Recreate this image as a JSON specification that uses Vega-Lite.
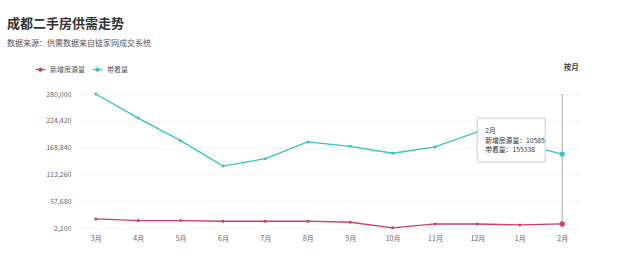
{
  "$schema": "https://vega.github.io/schema/vega-lite/v6.json",
  "autosize": {"type": "none"},
  "width": 502,
  "height": 134,
  "padding": {"left": 78, "top": 94, "right": 60, "bottom": 44},
  "background": "white",
  "title": {
    "text": "成都二手房供需走势",
    "subtitle": "数据来源：供需数据来自链家网成交系统",
    "anchor": "start",
    "frame": "group",
    "dx": -71,
    "offset": 16,
    "font": "Noto Sans CJK SC",
    "fontSize": 13,
    "fontWeight": "bold",
    "color": "#333333",
    "subtitleFont": "Noto Sans CJK SC",
    "subtitleFontSize": 8,
    "subtitleColor": "#555555",
    "subtitlePadding": 9
  },
  "config": {
    "view": {"stroke": null},
    "font": "Noto Sans CJK SC"
  },
  "datasets": {
    "main": [
      {"month": "3月", "idx": 0, "series": "新增房源量", "value": 20900},
      {"month": "4月", "idx": 1, "series": "新增房源量", "value": 17600},
      {"month": "5月", "idx": 2, "series": "新增房源量", "value": 17500},
      {"month": "6月", "idx": 3, "series": "新增房源量", "value": 16100},
      {"month": "7月", "idx": 4, "series": "新增房源量", "value": 16100},
      {"month": "8月", "idx": 5, "series": "新增房源量", "value": 16200},
      {"month": "9月", "idx": 6, "series": "新增房源量", "value": 14000},
      {"month": "10月", "idx": 7, "series": "新增房源量", "value": 2500},
      {"month": "11月", "idx": 8, "series": "新增房源量", "value": 10500},
      {"month": "12月", "idx": 9, "series": "新增房源量", "value": 10400},
      {"month": "1月", "idx": 10, "series": "新增房源量", "value": 8400},
      {"month": "2月", "idx": 11, "series": "新增房源量", "value": 10585},
      {"month": "3月", "idx": 0, "series": "带看量", "value": 280000},
      {"month": "4月", "idx": 1, "series": "带看量", "value": 230000},
      {"month": "5月", "idx": 2, "series": "带看量", "value": 183300},
      {"month": "6月", "idx": 3, "series": "带看量", "value": 130600},
      {"month": "7月", "idx": 4, "series": "带看量", "value": 145800},
      {"month": "8月", "idx": 5, "series": "带看量", "value": 180600},
      {"month": "9月", "idx": 6, "series": "带看量", "value": 171500},
      {"month": "10月", "idx": 7, "series": "带看量", "value": 157100},
      {"month": "11月", "idx": 8, "series": "带看量", "value": 170200},
      {"month": "12月", "idx": 9, "series": "带看量", "value": 201500},
      {"month": "1月", "idx": 10, "series": "带看量", "value": 177500},
      {"month": "2月", "idx": 11, "series": "带看量", "value": 155338}
    ],
    "hover": [
      {"month": "2月", "idx": 11, "value": 155338, "label": "按月"}
    ]
  },
  "layer": [
    {
      "data": {"name": "main"},
      "mark": {"type": "line", "strokeWidth": 1.3},
      "encoding": {
        "x": {
          "field": "idx", "type": "quantitative",
          "scale": {"domain": [-0.42, 11.42], "nice": false, "zero": false},
          "axis": {
            "values": [0, 1, 2, 3, 4, 5, 6, 7, 8, 9, 10, 11],
            "tickCount": 20,
            "labelExpr": "['3月','4月','5月','6月','7月','8月','9月','10月','11月','12月','1月','2月'][datum.value]",
            "title": null, "grid": false, "domain": false, "ticks": false,
            "labelFontSize": 7, "labelColor": "#666666", "labelPadding": 6,
            "labelOverlap": false
          }
        },
        "y": {
          "field": "value", "type": "quantitative",
          "scale": {"domain": [2100, 280000], "nice": false, "zero": false},
          "axis": {
            "values": [2100, 57680, 113260, 168840, 224420, 280000],
            "tickCount": 10,
            "format": ",.0f",
            "title": null, "domain": false, "ticks": false,
            "gridColor": "#f3f3f3", "gridWidth": 1,
            "labelFontSize": 7, "labelColor": "#666666", "labelPadding": 7,
            "labelOverlap": false, "labelFlush": false
          }
        },
        "color": {
          "field": "series", "type": "nominal",
          "scale": {"domain": ["新增房源量", "带看量"], "range": ["#cc3d68", "#33c3c3"]},
          "legend": {
            "orient": "none", "legendX": -43, "legendY": -30,
            "direction": "horizontal", "title": null,
            "symbolType": "M-1,0H1M-0.3,0a0.3,0.3 0 1,0 0.6,0a0.3,0.3 0 1,0 -0.6,0",
            "symbolSize": 90, "symbolStrokeWidth": 1.4,
            "labelFontSize": 7, "labelColor": "#555555", "columnPadding": 4,
            "labelOffset": 4,
            "encode": {"symbols": {"update": {"fill": {"scale": "color", "field": "value"}}}}
          }
        }
      }
    },
    {
      "data": {"name": "main"},
      "mark": {"type": "point", "filled": true, "size": 9, "opacity": 1},
      "encoding": {
        "x": {"field": "idx", "type": "quantitative"},
        "y": {"field": "value", "type": "quantitative"},
        "color": {"field": "series", "type": "nominal", "legend": null}
      }
    },
    {
      "data": {"name": "hover"},
      "mark": {"type": "rule", "color": "#aaaaaa", "strokeWidth": 1},
      "encoding": {
        "x": {"field": "idx", "type": "quantitative"},
        "y": {"datum": 280000},
        "y2": {"datum": 2100}
      }
    },
    {
      "data": {"name": "main"},
      "transform": [{"filter": "datum.idx == 11"}],
      "mark": {"type": "point", "filled": true, "size": 28, "opacity": 1},
      "encoding": {
        "x": {"field": "idx", "type": "quantitative"},
        "y": {"field": "value", "type": "quantitative"},
        "color": {"field": "series", "type": "nominal", "legend": null}
      }
    },
    {
      "data": {"name": "hover"},
      "mark": {"type": "rect", "fill": "white", "stroke": "#cccccc", "strokeWidth": 1,
               "xOffset": -85, "x2Offset": -17, "yOffset": -36, "y2Offset": 8},
      "encoding": {
        "x": {"field": "idx", "type": "quantitative"},
        "x2": {"field": "idx"},
        "y": {"field": "value", "type": "quantitative"},
        "y2": {"field": "value"}
      }
    },
    {
      "data": {"name": "hover"},
      "mark": {"type": "text", "align": "left", "baseline": "middle",
               "dx": -77, "dy": -23, "fontSize": 6.8, "lineHeight": 9.5, "color": "#333333",
               "text": ["2月", "新增房源量：10585", "带看量：155338"]},
      "encoding": {
        "x": {"field": "idx", "type": "quantitative"},
        "y": {"field": "value", "type": "quantitative"}
      }
    },
    {
      "data": {"name": "hover"},
      "mark": {"type": "text", "align": "center", "baseline": "middle",
               "dx": 9, "dy": -26, "fontSize": 7.5, "fontWeight": "bold", "color": "#444444"},
      "encoding": {
        "x": {"field": "idx", "type": "quantitative"},
        "y": {"datum": 280000},
        "text": {"field": "label"}
      }
    }
  ]
}
